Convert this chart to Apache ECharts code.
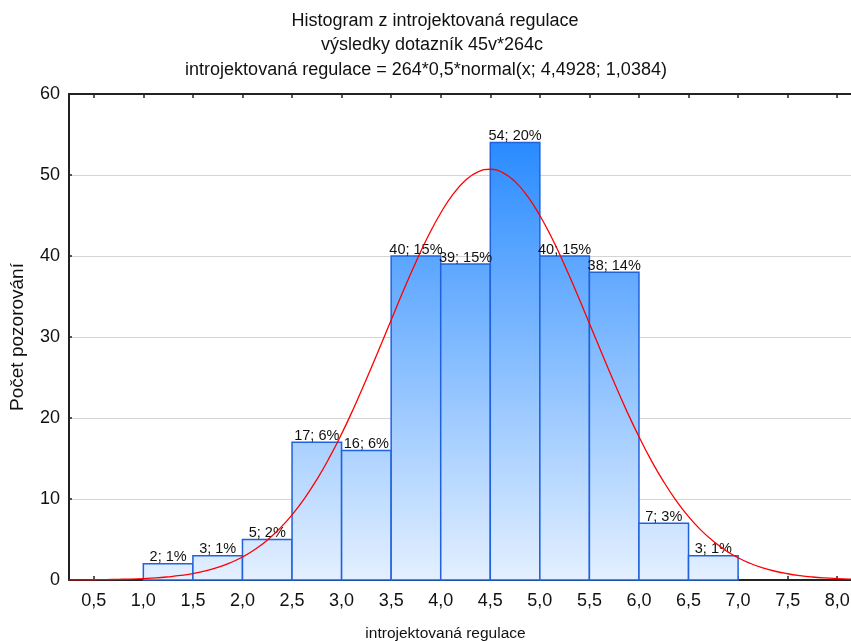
<!DOCTYPE html>
<html>
<head>
<meta charset="utf-8">
<script src="https://cdn.jsdelivr.net/npm/echarts@6/dist/echarts.min.js"></script>
<style>
  html, body { margin: 0; padding: 0; background: #fff; }
  #chart { width: 851px; height: 641px; }
</style>
</head>
<body>
<div id="chart"></div>
<script>
// Histogram bins (class limits) and counts
var binStart = [1.0, 1.5, 2.0, 2.5, 3.0, 3.5, 4.0, 4.5, 5.0, 5.5, 6.0, 6.5];
var binEnd   = [1.5, 2.0, 2.5, 3.0, 3.5, 4.0, 4.5, 5.0, 5.5, 6.0, 6.5, 7.0];
var counts   = [2, 3, 5, 17, 16, 40, 39, 54, 40, 38, 7, 3];
var percents = [1, 1, 2, 6, 6, 15, 15, 20, 15, 14, 3, 1];

// Expected normal curve, sampled every 0.125
var curveX = [0.25, 0.375, 0.5, 0.625, 0.75, 0.875, 1.0, 1.125, 1.25, 1.375, 1.5, 1.625, 1.75, 1.875,
              2.0, 2.125, 2.25, 2.375, 2.5, 2.625, 2.75, 2.875, 3.0, 3.125, 3.25, 3.375, 3.5, 3.625,
              3.75, 3.875, 4.0, 4.125, 4.25, 4.375, 4.5, 4.625, 4.75, 4.875, 5.0, 5.125, 5.25, 5.375,
              5.5, 5.625, 5.75, 5.875, 6.0, 6.125, 6.25, 6.375, 6.5, 6.625, 6.75, 6.875, 7.0, 7.125,
              7.25, 7.375, 7.5, 7.625, 7.75, 7.875, 8.0, 8.125, 8.25];
var curveY = [0.01, 0.02, 0.03, 0.05, 0.08, 0.12, 0.18, 0.26, 0.39, 0.56, 0.80, 1.12, 1.55, 2.11,
              2.84, 3.77, 4.92, 6.34, 8.04, 10.06, 12.40, 15.07, 18.04, 21.30, 24.78, 28.41, 32.10, 35.77,
              39.26, 42.49, 45.31, 47.63, 49.34, 50.38, 50.71, 50.30, 49.18, 47.39, 45.00, 42.13, 38.87, 35.35,
              31.68, 27.99, 24.37, 20.91, 17.69, 14.74, 12.11, 9.81, 7.83, 6.16, 4.78, 3.65, 2.75, 2.04,
              1.49, 1.08, 0.77, 0.54, 0.37, 0.25, 0.17, 0.11, 0.07];

// Axis tick labels
var xTicks = [0.5, 1.0, 1.5, 2.0, 2.5, 3.0, 3.5, 4.0, 4.5, 5.0, 5.5, 6.0, 6.5, 7.0, 7.5, 8.0];
var yMax = 60;

// Title lines
var titleLines = [
  'Histogram z introjektovaná regulace',
  'výsledky dotazník 45v*264c',
  'introjektovaná regulace = 264*0,5*normal(x; 4,4928; 1,0384)'
];

var chart = echarts.init(document.getElementById('chart'));

var barData = counts.map(function (c, i) { return [binStart[i], binEnd[i], c, percents[i]]; });
var curveData = curveX.map(function (x, i) { return [x, curveY[i]]; });

function fmtNum(v) { return v.toFixed(1).replace('.', ','); }

var FONT = 'Liberation Sans, Arial, sans-serif';
var TXT = '#111111';

var titleCenters = [435, 432, 426];
var titles = titleLines.map(function (t, i) {
  return {
    text: t,
    left: titleCenters[i],
    textAlign: 'center',
    top: 12 + i * 24.5,
    padding: 0,
    textStyle: { fontFamily: FONT, fontSize: 18, fontWeight: 'normal', color: TXT }
  };
});

chart.setOption({
  animation: false,
  backgroundColor: '#ffffff',
  title: titles,
  grid: { left: 69, top: 94, right: -11, bottom: 61, outerBoundsMode: 'none', containLabel: false },
  xAxis: [{
    type: 'value',
    min: 0.25,
    max: 8.25,
    position: 'bottom',
    name: 'introjektovaná regulace',
    nameLocation: 'middle',
    nameGap: 46,
    nameTextStyle: { fontFamily: FONT, fontSize: 15.5, color: TXT, padding: [0, 40, 0, 0] },
    axisLine: { show: true, onZero: false, lineStyle: { color: '#222', width: 2 } },
    axisTick: { show: true, inside: true, length: 4, customValues: xTicks, lineStyle: { color: '#222', width: 1.5 } },
    axisLabel: { show: true, customValues: xTicks, margin: 12, fontFamily: FONT, fontSize: 18, color: TXT,
                 formatter: function (v) { return fmtNum(v); } },
    splitLine: { show: false }
  }, {
    type: 'value',
    show: true,
    min: 0.25,
    max: 8.25,
    position: 'top',
    z: 3,
    axisLine: { show: true, onZero: false, lineStyle: { color: '#222', width: 2 } },
    axisTick: { show: true, inside: true, length: 4, customValues: xTicks, lineStyle: { color: '#222', width: 1.5 } },
    axisLabel: { show: false },
    splitLine: { show: false }
  }],
  yAxis: {
    type: 'value',
    min: 0,
    max: yMax,
    interval: 10,
    name: 'Počet pozorování',
    nameLocation: 'middle',
    nameGap: 42,
    nameTextStyle: { fontFamily: FONT, fontSize: 19, color: TXT },
    axisLine: { show: true, lineStyle: { color: '#222', width: 2 } },
    axisTick: { show: true, inside: true, length: 3, lineStyle: { color: '#222', width: 1.5 } },
    axisLabel: { fontFamily: FONT, fontSize: 18, color: TXT, margin: 9 },
    splitLine: { show: true, lineStyle: { color: '#d4d4d4', width: 1 } }
  },
  series: [{
    type: 'custom',
    xAxisIndex: 0,
    encode: { x: [0, 1], y: 2 },
    data: barData,
    z: 2,
    renderItem: function (params, api) {
      var x0 = api.value(0), x1 = api.value(1), v = api.value(2), p = api.value(3);
      var tl = api.coord([x0, v]);
      var br = api.coord([x1, 0]);
      var topY = api.coord([x0, yMax])[1];
      return {
        type: 'group',
        children: [{
          type: 'rect',
          shape: { x: tl[0], y: tl[1], width: br[0] - tl[0], height: br[1] - tl[1] },
          style: {
            fill: {
              type: 'linear', global: true, x: 0, y: topY, x2: 0, y2: br[1],
              colorStops: [{ offset: 0, color: '#1580ff' }, { offset: 1, color: '#e4f0ff' }]
            },
            stroke: '#1f62dc',
            lineWidth: 1.5
          }
        }, {
          type: 'text',
          style: {
            text: v + '; ' + p + '%',
            x: (tl[0] + br[0]) / 2,
            y: tl[1] + 1,
            align: 'center',
            verticalAlign: 'bottom',
            fill: TXT,
            font: '14.5px ' + FONT
          },
          z2: 10
        }]
      };
    }
  }, {
    type: 'line',
    xAxisIndex: 0,
    data: curveData,
    smooth: true,
    showSymbol: false,
    symbol: 'none',
    z: 5,
    lineStyle: { color: '#ff0000', width: 1.3 }
  }, {
    // keeps the mirrored top axis bound to the same scale
    type: 'line',
    xAxisIndex: 1,
    data: [],
    symbol: 'none'
  }]
});
</script>
</body>
</html>
